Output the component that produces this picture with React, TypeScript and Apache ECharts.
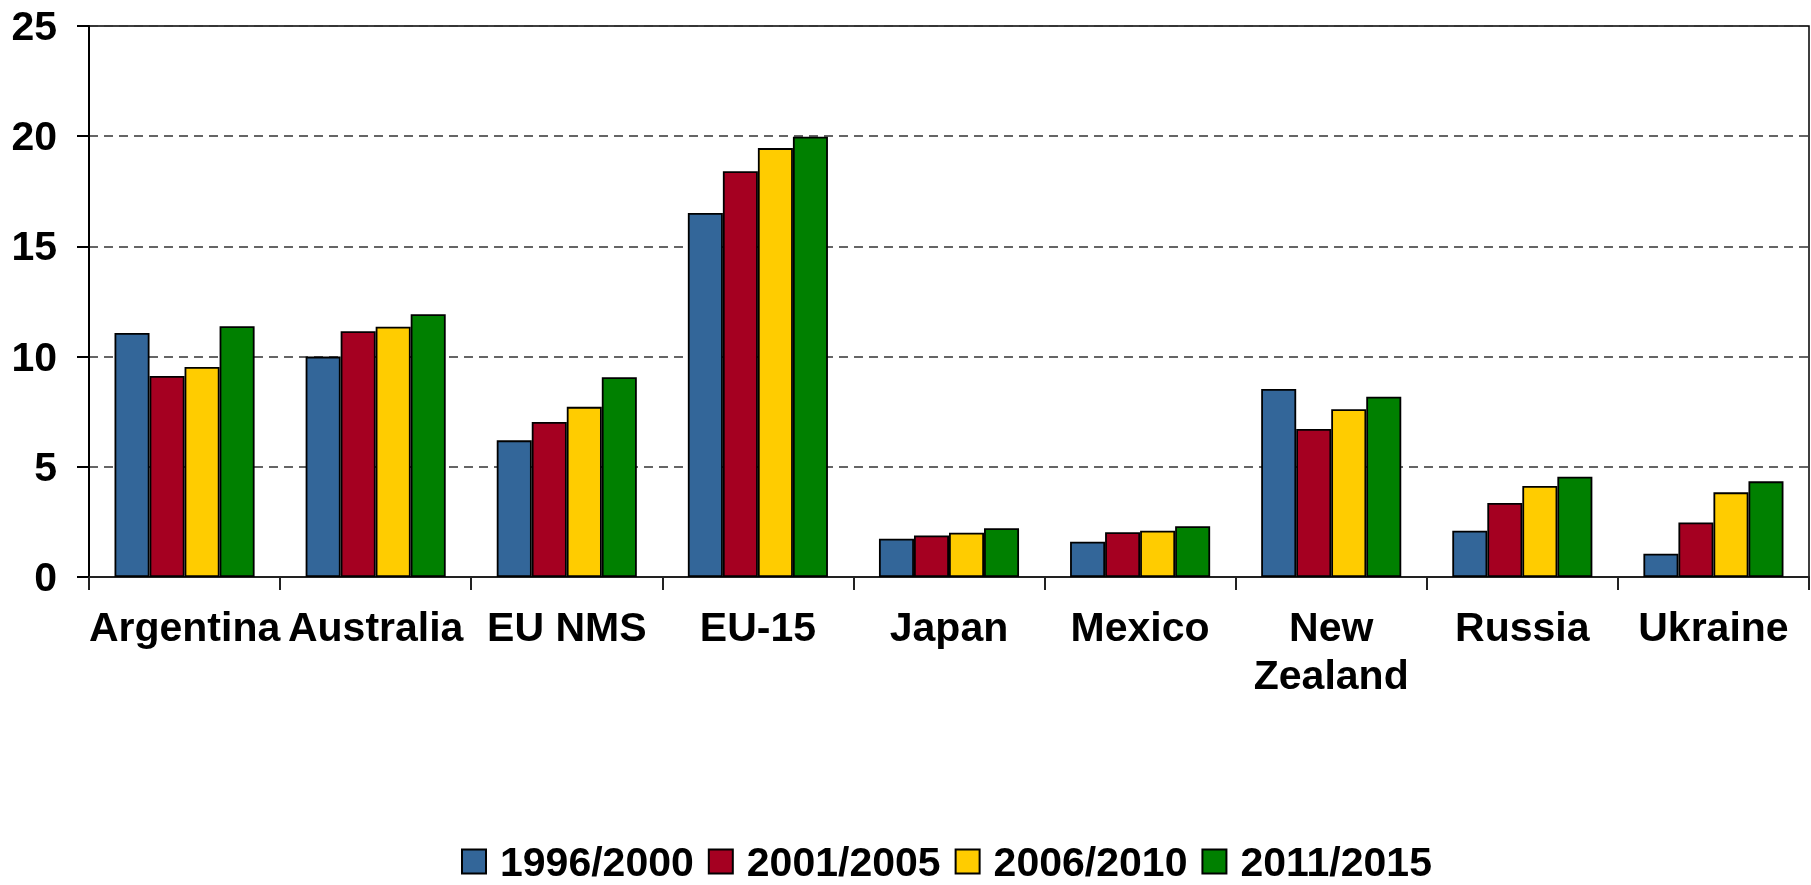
import React, { useEffect, useRef } from "react";
import * as echarts from "echarts";

const categories = ["Argentina", "Australia", "EU NMS", "EU-15", "Japan", "Mexico", "New Zealand", "Russia", "Ukraine"];
const seriesNames = ["1996/2000", "2001/2005", "2006/2010", "2011/2015"];
const s1996 = [11.07, 10.0, 6.2, 16.52, 1.74, 1.6, 8.53, 2.1, 1.06];
const s2001 = [9.12, 11.15, 7.03, 18.41, 1.88, 2.03, 6.72, 3.36, 2.47];
const s2006 = [9.53, 11.36, 7.72, 19.46, 2.01, 2.1, 7.61, 4.13, 3.84];
const s2011 = [11.38, 11.92, 9.06, 19.98, 2.21, 2.3, 8.18, 4.55, 4.34];
const colors = ["#336699", "#A50021", "#FFCC00", "#008000"];
const yTicks = { min: 0, max: 25, interval: 5 };

export default function App() {
  const ref = useRef<HTMLDivElement>(null);
  useEffect(() => {
    if (!ref.current) return;
    const chart = echarts.init(ref.current, undefined, { renderer: "svg" });
    const font = "'Liberation Sans', Arial, sans-serif";
    const data = [s1996, s2001, s2006, s2011];
    chart.setOption({
      animation: false,
      textStyle: { fontFamily: font },
      grid: {
        left: 89,
        right: 2,
        top: 26,
        bottom: 308,
        show: true,
        borderColor: "#000",
        borderWidth: 1.5,
        backgroundColor: "transparent",
      },
      legend: {
        top: 836,
        left: 456,
        icon: "rect",
        itemWidth: 24,
        itemHeight: 24,
        itemGap: 14,
        data: seriesNames,
        textStyle: {
          fontSize: 41,
          fontWeight: "bold",
          color: "#000",
          fontFamily: font,
          padding: [0, 0, 0, 9],
        },
      },
      xAxis: {
        type: "category",
        data: categories,
        axisLine: { lineStyle: { color: "#222", width: 2 } },
        axisTick: { show: true, length: 13, lineStyle: { color: "#222", width: 2 } },
        axisLabel: {
          interval: 0,
          margin: 26,
          fontSize: 41,
          fontWeight: "bold",
          color: "#000",
          lineHeight: 48,
          fontFamily: font,
          formatter: (v: string) => (v.length > 10 ? v.replace(" ", "\n") : v),
        },
      },
      yAxis: {
        type: "value",
        min: yTicks.min,
        max: yTicks.max,
        interval: yTicks.interval,
        axisLine: { show: true, lineStyle: { color: "#000", width: 2 } },
        axisTick: { show: true, length: 12, lineStyle: { color: "#000", width: 2 } },
        axisLabel: { margin: 32, fontSize: 41, fontWeight: "bold", color: "#000", fontFamily: font },
        splitLine: { lineStyle: { color: "#333", width: 1.5, type: [9, 6] } },
      },
      series: seriesNames.map((name, i) => ({
        name,
        type: "bar",
        data: data[i],
        barGap: "0%",
        barCategoryGap: "26.7%",
        itemStyle: { color: colors[i], borderColor: "#000", borderWidth: 1.8 },
      })),
    });
    return () => chart.dispose();
  }, []);
  return <div ref={ref} style={{ position: "fixed", left: 0, top: 0, width: 1811, height: 885 }} />;
}
